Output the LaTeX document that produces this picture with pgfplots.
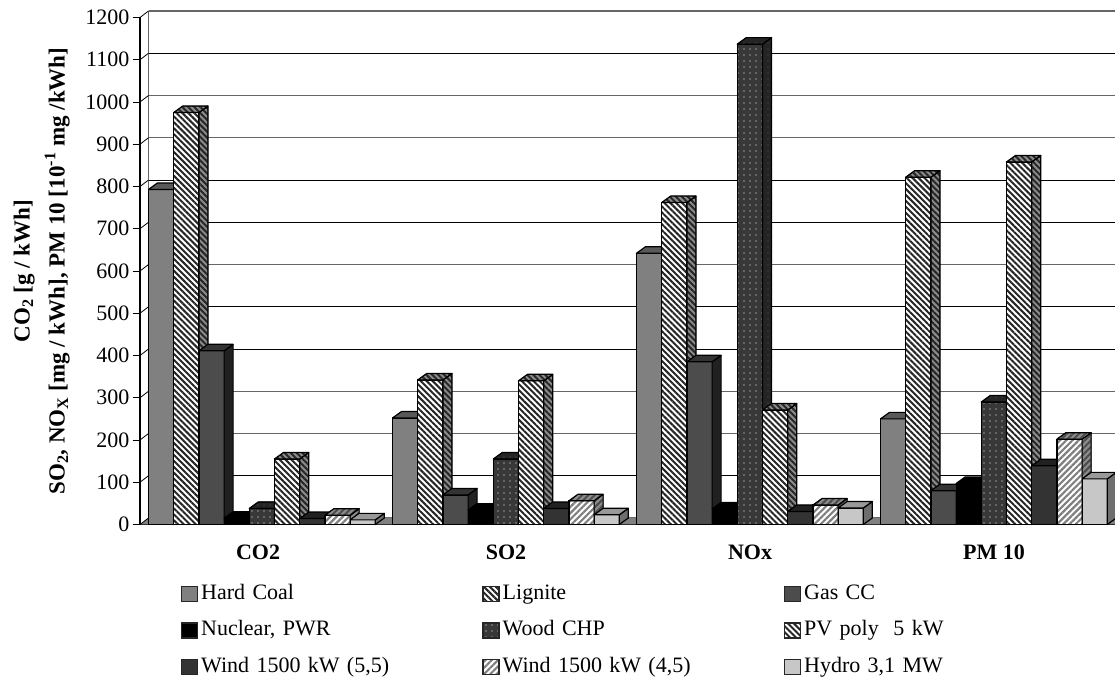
\documentclass[border=0pt]{standalone}
\usepackage{fontspec}
\setmainfont{Liberation Serif}
\usepackage{pgfplots}
\usepackage{pgfplotstable}
\pgfplotsset{compat=1.18}
\usetikzlibrary{patterns.meta}

% values, grp = position of the group on the x axis
\pgfplotstableread{
grp hc  lig gas nuc wood pv  wfive wfour hyd
0   793 975 411 15  38   155 14    22    11
1   252 342 70  34  155  340 38    56    23
2   642 762 385 37  1137 271 31    46    39
3   250 822 80  97  290  858 139   202   108
}\emissions

\def\yu{0.4225}   % pt per unit on the y axis
\def\bhw{12.6}    % half a bar
\def\dpx{9}       % depth of the 3d look
\def\dpy{6.5}

\tikzset{
  lig front/.style={preaction={fill=white},pattern={Lines[angle=-45,distance=4.2pt,line width=2pt]},pattern color=black!85},
  lig side/.style={preaction={fill=black!45},pattern={Lines[angle=-45,distance=4.2pt,line width=2pt]},pattern color=black!85},
  wood front/.style={preaction={fill=black!78},pattern={Dots[distance=6pt,radius=0.85pt]},pattern color=black!42},
  wood side/.style={preaction={fill=black!86},pattern={Dots[distance=6pt,radius=0.7pt]},pattern color=black!65},
  wf front/.style={preaction={fill=white},pattern={Lines[angle=45,distance=4.4pt,line width=2.2pt]},pattern color=black!50},
  wf side/.style={preaction={fill=black!45},pattern={Lines[angle=45,distance=4.4pt,line width=2pt]},pattern color=black!70},
}

\pgfdeclareplotmark{nothing}{}

\newcommand{\addbar}[5]{%
  \addplot[ybar,bar width=25.2pt,bar shift=0pt,draw=black,line width=1.2pt,swatch,#3]
    table[x expr=\thisrow{grp}+(8.5+(#2+0.5)*25.2)/244,y=#1]{\emissions};
  \addplot[forget plot,scatter,only marks,mark=nothing,
    visualization depends on={rawy \as \barval},
    scatter/@pre marker code/.code={%
      \pgfmathsetmacro\barh{\barval*\yu}%
      \path[draw=black,line width=1.2pt,line join=round,#4]
        (\bhw pt,0pt) -- ++(\dpx pt,\dpy pt) -- ++(0pt,-\barh pt) -- ++(-\dpx pt,-\dpy pt) -- cycle;
      \path[draw=black,line width=1.2pt,line join=round,#5]
        (-\bhw pt,0pt) -- ++(\dpx pt,\dpy pt) -- ++(2*\bhw pt,0pt) -- ++(-\dpx pt,-\dpy pt) -- cycle;
    },
    scatter/@post marker code/.code={}]
    table[x expr=\thisrow{grp}+(8.5+(#2+0.5)*25.2)/244,y=#1]{\emissions};
}

\begin{document}
\fontsize{22}{26}\selectfont
\begin{tikzpicture}
\useasboundingbox (0,0) rectangle (1115pt,679pt);
\begin{axis}[
    at={(140pt,154.5pt)}, anchor=south west,
    scale only axis, width=976pt, height=507pt,
    clip=false, clip mode=individual,
    xmin=0, xmax=4, ymin=0, ymax=1200,
    axis x line*=bottom, axis y line*=left,
    axis line style={line width=1.2pt,black},
    tick align=outside,
    xtick={0.5,1.5,2.5,3.5},
    xticklabels={\hspace*{-8pt}CO2,SO2,NOx,PM 10},
    xticklabel style={font=\bfseries,yshift=-5pt},
    x tick style={draw=none},
    minor xtick={0,1,2,3,4},
    minor tick length=9pt,
    minor x tick style={black,line width=0.9pt},
    ytick={100,400,500,700,800,1100},
    extra y ticks={0,200,300,600,900,1000,1200},
    extra y tick style={y grid style={black!60,line width=1.4pt}},
    major tick length=7.5pt,
    y tick style={black,line width=0.9pt},
    yticklabel style={inner sep=3pt},
    /pgf/number format/1000 sep={},
    /pgf/number format/assume math mode=true,
    ymajorgrids,
    y grid style={black,line width=0.8pt,xshift=8.5pt,yshift=6.5pt},
    ylabel={CO\textsubscript{2} [g / kWh]\\[9pt]SO\textsubscript{2}, NO\textsubscript{X} [mg / kWh], PM 10 [10\textsuperscript{-1} mg /kWh]},
    ylabel style={font=\fontsize{23}{26}\selectfont\bfseries,align=center,at={(ticklabel cs:0.5)},yshift=-9pt},
    swatch/.style={legend image code/.code={\path[##1,draw=black!85,line width=1.5pt] (0pt,-7.5pt) rectangle (16pt,7.5pt);}},
    legend columns=3,
    legend style={draw=none,fill=none,inner sep=0pt,anchor=north west,
      at={(axis description cs:0.0415,-0.117)},
      row sep=16.5pt,
      nodes={inner sep=0pt,text width=281pt,text height=15pt,text depth=5pt,align=left},
      /tikz/every odd column/.style={column sep=3pt}},
]
% floor and back wall
\fill[black!50] (axis cs:0,0) -- ++(8.5pt,6.5pt) -- ++(976pt,0pt) -- (axis cs:4,0) -- cycle;
\draw[black!60,line width=1.4pt] (axis cs:0,0) ++(8.5pt,6.5pt) -- ++(0pt,507pt);
\pgfplotsinvokeforeach{0,100,...,1200}{\draw[black,line width=0.8pt] (axis cs:0,#1) -- ++(8.5pt,6.5pt);}

\addbar{hc}{0}{fill=black!50}{fill=black!70}{fill=black!65}
\addlegendentry{Hard Coal}
\addbar{lig}{1}{lig front}{lig side}{lig side}
\addlegendentry{Lignite}
\addbar{gas}{2}{fill=black!70}{fill=black!87}{fill=black!80}
\addlegendentry{Gas CC}
\addbar{nuc}{3}{fill=black}{fill=black}{fill=black}
\addlegendentry{Nuclear, PWR}
\addbar{wood}{4}{wood front}{wood side}{wood side}
\addlegendentry{Wood CHP}
\addbar{pv}{5}{lig front}{lig side}{lig side}
\addlegendentry{PV poly\ \ 5 kW}
\addbar{wfive}{6}{fill=black!80}{fill=black!90}{fill=black!87}
\addlegendentry{Wind 1500 kW (5,5)}
\addbar{wfour}{7}{wf front}{wf side}{wf side}
\addlegendentry{Wind 1500 kW (4,5)}
\addbar{hyd}{8}{fill=black!22}{fill=black!57}{fill=black!40}
\addlegendentry{Hydro 3,1 MW}
\end{axis}
\end{tikzpicture}
\end{document}
